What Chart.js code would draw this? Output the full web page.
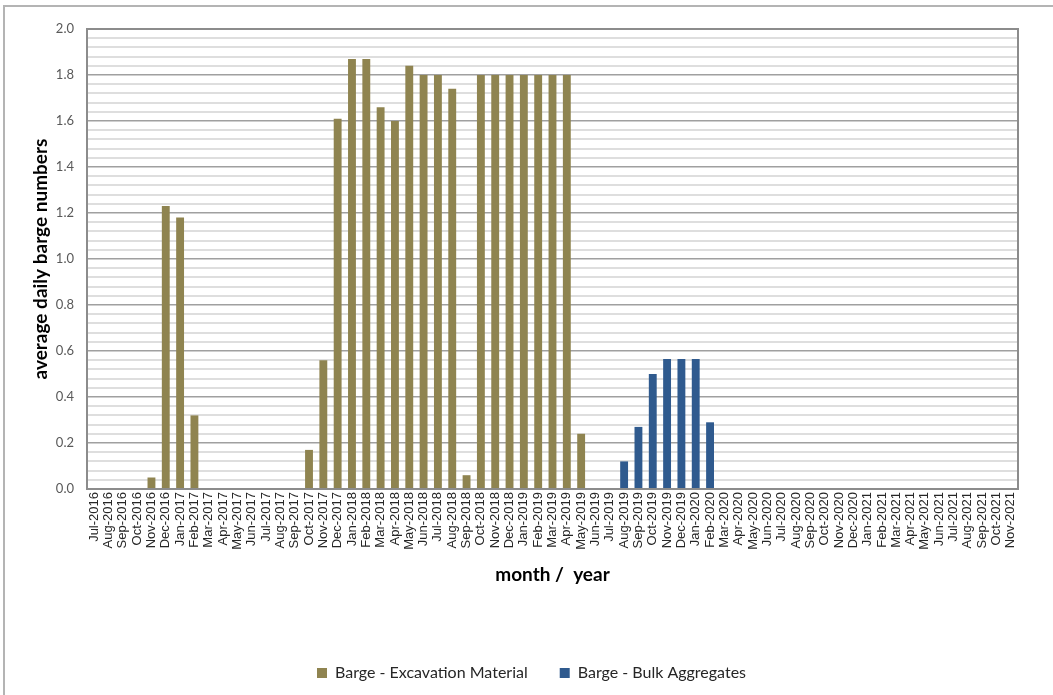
<!DOCTYPE html>
<html>
<head>
<meta charset="utf-8">
<script src="https://cdn.jsdelivr.net/npm/chart.js@4/dist/chart.umd.min.js"></script>
<style>
  html, body { margin: 0; padding: 0; background: #ffffff; }
  #wrap { position: relative; width: 1053px; height: 695px; overflow: hidden; }
  #frame { position: absolute; left: 3px; top: 5px; width: 1100px; height: 740px;
           border: 2px solid #b4b4b4; box-sizing: border-box; }
  canvas { position: absolute; left: 0; top: 0; }
</style>
</head>
<body>
<div id="wrap">
  <div id="frame"></div>
  <canvas id="chart" width="1053" height="695"></canvas>
</div>
<script>
// Months shown along the x axis
const months = [
  'Jul-2016','Aug-2016','Sep-2016','Oct-2016','Nov-2016','Dec-2016',
  'Jan-2017','Feb-2017','Mar-2017','Apr-2017','May-2017','Jun-2017','Jul-2017','Aug-2017','Sep-2017','Oct-2017','Nov-2017','Dec-2017',
  'Jan-2018','Feb-2018','Mar-2018','Apr-2018','May-2018','Jun-2018','Jul-2018','Aug-2018','Sep-2018','Oct-2018','Nov-2018','Dec-2018',
  'Jan-2019','Feb-2019','Mar-2019','Apr-2019','May-2019','Jun-2019','Jul-2019','Aug-2019','Sep-2019','Oct-2019','Nov-2019','Dec-2019',
  'Jan-2020','Feb-2020','Mar-2020','Apr-2020','May-2020','Jun-2020','Jul-2020','Aug-2020','Sep-2020','Oct-2020','Nov-2020','Dec-2020',
  'Jan-2021','Feb-2021','Mar-2021','Apr-2021','May-2021','Jun-2021','Jul-2021','Aug-2021','Sep-2021','Oct-2021','Nov-2021'
];

// Average daily barges carrying excavation material (per month)
const excavationMaterial = [
  null, null, null, null, 0.05, 1.23,
  1.18, 0.32, null, null, null, null, null, null, null, 0.17, 0.56, 1.61,
  1.87, 1.87, 1.66, 1.60, 1.84, 1.80, 1.80, 1.74, 0.06, 1.80, 1.80, 1.80,
  1.80, 1.80, 1.80, 1.80, 0.24, null, null, null, null, null, null, null,
  null, null, null, null, null, null, null, null, null, null, null, null,
  null, null, null, null, null, null, null, null, null, null, null
];

// Average daily barges carrying bulk aggregates (per month)
const bulkAggregates = [
  null, null, null, null, null, null,
  null, null, null, null, null, null, null, null, null, null, null, null,
  null, null, null, null, null, null, null, null, null, null, null, null,
  null, null, null, null, null, null, null, 0.12, 0.27, 0.50, 0.565, 0.565,
  0.565, 0.29, null, null, null, null, null, null, null, null, null, null,
  null, null, null, null, null, null, null, null, null, null, null
];

// Value axis range and tick spacing
const yMin = 0;
const yMax = 2.0;
const yMinorStep = 0.04;
const yLabelStep = 0.2;

const isMajor = v => Math.abs(v / yLabelStep - Math.round(v / yLabelStep)) < 1e-6;

const FONT = "Lato, 'Open Sans', 'Liberation Sans', sans-serif";

new Chart(document.getElementById('chart'), {
  type: 'bar',
  data: {
    labels: months,
    datasets: [
      {
        label: 'Barge - Excavation Material',
        data: excavationMaterial,
        backgroundColor: '#8f8450',
        barPercentage: 0.55,
        categoryPercentage: 1.0
      },
      {
        label: 'Barge - Bulk Aggregates',
        data: bulkAggregates,
        backgroundColor: '#2f5a8e',
        barPercentage: 0.55,
        categoryPercentage: 1.0
      }
    ]
  },
  options: {
    responsive: false,
    animation: false,
    devicePixelRatio: 1,
    // left padding also centres the bottom legend under the plot
    layout: { padding: { top: 29, right: 35, left: 45, bottom: 4 } },
    plugins: {
      tooltip: { enabled: false },
      legend: {
        position: 'bottom',
        labels: {
          font: { family: FONT, size: 16 },
          color: '#262626',
          boxWidth: 10,
          boxHeight: 10,
          padding: 32
        }
      }
    },
    scales: {
      x: {
        stacked: true,
        grid: { display: false, drawTicks: false },
        border: { display: true, color: '#8c8c8c', width: 2 },
        ticks: {
          autoSkip: false,
          minRotation: 90,
          maxRotation: 90,
          padding: 3,
          color: '#262626',
          font: { family: "'Liberation Sans', Arial, sans-serif", size: 13 }
        },
        title: {
          display: true,
          text: 'month /  year',
          color: '#000000',
          font: { family: FONT, size: 19, weight: 'bold' },
          padding: { top: 6, bottom: 47 }
        },
        afterFit: s => { s.height = 144; }
      },
      y: {
        stacked: true,
        min: yMin,
        max: yMax,
        border: { display: true, color: '#8c8c8c', width: 2 },
        grid: {
          drawTicks: false,
          color: c => isMajor(c.tick.value) ? '#a0a0a0' : '#dedede',
          lineWidth: c => isMajor(c.tick.value) ? 1.6 : 2
        },
        ticks: {
          autoSkip: false,
          stepSize: yMinorStep,
          padding: 13,
          color: '#595959',
          font: { family: FONT, size: 13 },
          callback: v => isMajor(v) ? v.toFixed(1) : ''
        },
        title: {
          display: true,
          text: 'average daily barge numbers',
          color: '#000000',
          font: { family: FONT, size: 19, weight: 'bold' },
          // the title sits left of the padded area, next to the frame
          padding: { top: -16, bottom: 0 }
        },
        afterFit: s => { s.width = 42; }
      }
    }
  },
  plugins: [{
    id: 'plotFrame',
    afterDraw(chart) {
      const a = chart.chartArea, ctx = chart.ctx;
      ctx.save();
      ctx.strokeStyle = '#8c8c8c';
      ctx.lineWidth = 2;
      ctx.strokeRect(a.left, a.top, a.right - a.left, a.bottom - a.top);
      ctx.restore();
    }
  }]
});
</script>
</body>
</html>
